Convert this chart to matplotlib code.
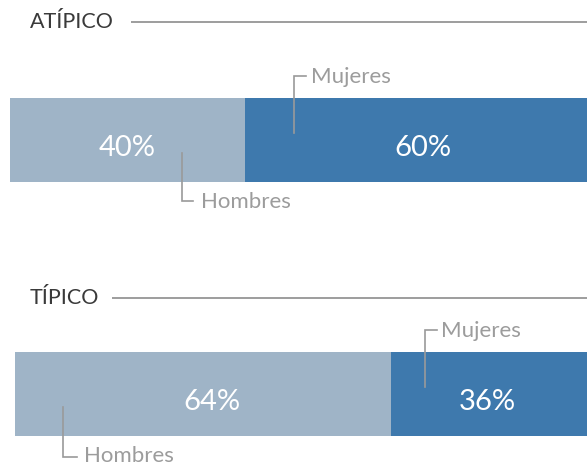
import matplotlib
matplotlib.use("Agg")
import matplotlib.pyplot as plt

# ---- data ----
groups = ["ATÍPICO", "TÍPICO"]
hombres = [40, 64]
mujeres = [60, 36]
series_names = ["Hombres", "Mujeres"]
colors = ["#9fb4c7", "#3e79ad"]

W, H = 587, 466
fig = plt.figure(figsize=(W / 100, H / 100), dpi=100)
FONT = ["Lato", "DejaVu Sans"]

# layout (pixels): bar left, bar top, bar bottom, title y, title line start
bar_left = [10, 15]
bar_top = [98, 352]
bar_bot = [182, 436]
title_y = [22, 298]
title_line_x = [131, 112]
label_dx = [[0, 2], [9, -9]]  # small pixel nudges for % labels

# overlay axes for headers and callouts (pixel coordinates)
ov = fig.add_axes([0, 0, 1, 1], zorder=5)
ov.set_xlim(0, W)
ov.set_ylim(H, 0)
ov.axis("off")

for i, g in enumerate(groups):
    ax = fig.add_axes([bar_left[i] / W, (H - bar_bot[i]) / H,
                       587 / W, (bar_bot[i] - bar_top[i]) / H])
    ax.set_xlim(0, 100)
    ax.set_ylim(-0.5, 0.5)
    ax.axis("off")
    vals = [hombres[i], mujeres[i]]
    left = 0
    for j, v in enumerate(vals):
        ax.barh(0, v, left=left, height=1.0, color=colors[j], edgecolor="none")
        xc = left + v / 2 + label_dx[i][j] * 100 / 587
        ax.text(xc, -0.19, f"{v}%", ha="center", va="baseline", color="white",
                fontsize=21, family=FONT, fontweight="normal")
        left += v

    # header
    ov.text(30, title_y[i], g, ha="left", va="center", color="#3a3a3a",
            fontsize=15.5, family=FONT)
    ov.plot([title_line_x[i], W], [title_y[i], title_y[i]], color="#8c8c8c",
            lw=1.2, solid_capstyle="butt")

# callouts: (x vertical, y start in bar, y end of hook, x end of hook, text x, text baseline y, text)
callouts = [
    (294, 133, 76, 306, 311, 83, "Mujeres"),
    (182, 153, 201, 193, 201, 208, "Hombres"),
    (425, 387, 330, 437, 441, 337, "Mujeres"),
    (63, 407, 457, 77, 84, 462, "Hombres"),
]
for xv, y0, y1, xh, xt, yt, txt in callouts:
    ov.plot([xv, xv, xh], [y0, y1, y1], color="#9a9a9a", lw=1.2,
            solid_joinstyle="miter")
    ov.text(xt, yt, txt, ha="left", va="baseline", color="#9c9c9c",
            fontsize=16, family=FONT, fontweight="normal")

fig.savefig("out.png", dpi=100)
